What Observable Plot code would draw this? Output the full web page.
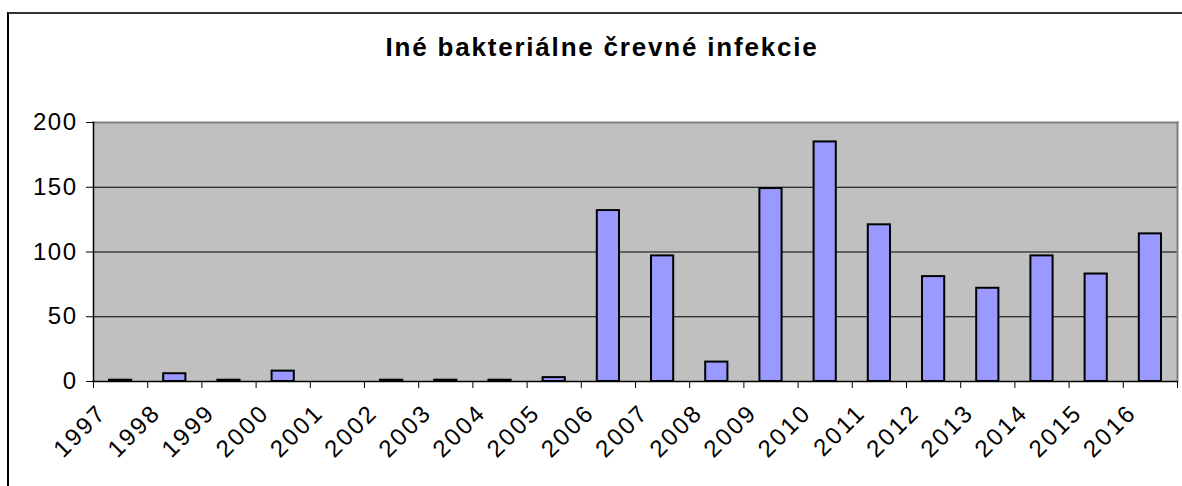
<!DOCTYPE html>
<html>
<head>
<meta charset="utf-8">
<script src="https://cdn.jsdelivr.net/npm/d3@7"></script>
<script src="https://cdn.jsdelivr.net/npm/@observablehq/plot@0.6"></script>
<style>
  html, body { margin: 0; padding: 0; background: #fff; }
  body { width: 1182px; height: 486px; overflow: hidden; position: relative; font-family: "Liberation Sans", Arial, sans-serif; }
  #border { position: absolute; left: 7px; top: 12px; width: 1300px; height: 600px; border-left: 2px solid #000; border-top: 2px solid #333; box-sizing: border-box; }
  #title { position: absolute; left: 0; top: 34px; width: 1204px; text-align: center; font-weight: bold; font-size: 26px; line-height: 26px; letter-spacing: 1.8px; color: #000; }
  #chart { position: absolute; left: 0; top: 0; }
</style>
</head>
<body>
<div id="border"></div>
<div id="title">Iné bakteriálne črevné infekcie</div>
<div id="chart"></div>
<script>
const years = [1997, 1998, 1999, 2000, 2001, 2002, 2003, 2004, 2005, 2006, 2007, 2008, 2009, 2010, 2011, 2012, 2013, 2014, 2015, 2016];
const values = [1, 6, 1, 8, 0, 1, 1, 1, 3, 132, 97, 15, 149, 185, 121, 81, 72, 97, 83, 114];
const yTicks = [0, 50, 100, 150, 200];

const data = years.map((year, i) => ({year, value: values[i]}));
const boundaries = [...years.map(y => y - 0.5), years[years.length - 1] + 0.5];

const chart = Plot.plot({
  width: 1182,
  height: 486,
  marginTop: 122,
  marginBottom: 105,
  marginLeft: 93,
  marginRight: 5,
  style: {fontFamily: "'Liberation Sans', Arial, sans-serif", fontSize: "24px", background: "transparent", color: "#000"},
  x: {domain: [boundaries[0], boundaries[boundaries.length - 1]]},
  y: {domain: [0, 200]},
  marks: [
    Plot.frame({fill: "#C0C0C0"}),
    Plot.gridY(yTicks.filter(v => v > 0 && v < 200), {stroke: "#000", strokeOpacity: 1, strokeWidth: 1}),
    Plot.rectY(data.filter(d => d.value > 0), {
      x1: d => d.year - 0.5, x2: d => d.year + 0.5, y: "value",
      insetLeft: 16, insetRight: 16,
      fill: "#9999FF", stroke: "#000", strokeWidth: 2
    }),
    Plot.frame({anchor: "top", stroke: "#808080", strokeWidth: 2}),
    Plot.frame({anchor: "right", stroke: "#808080", strokeWidth: 2}),
    Plot.frame({anchor: "left", stroke: "#000", strokeWidth: 1.5}),
    Plot.ruleY([0], {stroke: "#000", strokeWidth: 1.5}),
    Plot.axisY({ticks: yTicks, tickSize: 7, tickPadding: 9, label: null, stroke: "#000", fontSize: 24}),
    Plot.axisX({ticks: boundaries, tickSize: 7, tickFormat: () => "", label: null, stroke: "#000"}),
    Plot.axisX({ticks: years, tickSize: 0, tickPadding: 0, tickRotate: -45, tickFormat: d => String(d),
      textAnchor: "end", lineAnchor: "middle", dx: -18, dy: 27, label: null, fontSize: 24})
  ]
});
d3.select(chart).selectAll('g[aria-label="y-axis tick label"] text').style("letter-spacing", "1.5px");
d3.select(chart).selectAll('g[aria-label="x-axis tick label"] text').style("letter-spacing", "2.5px");
document.getElementById("chart").appendChild(chart);
</script>
</body>
</html>
